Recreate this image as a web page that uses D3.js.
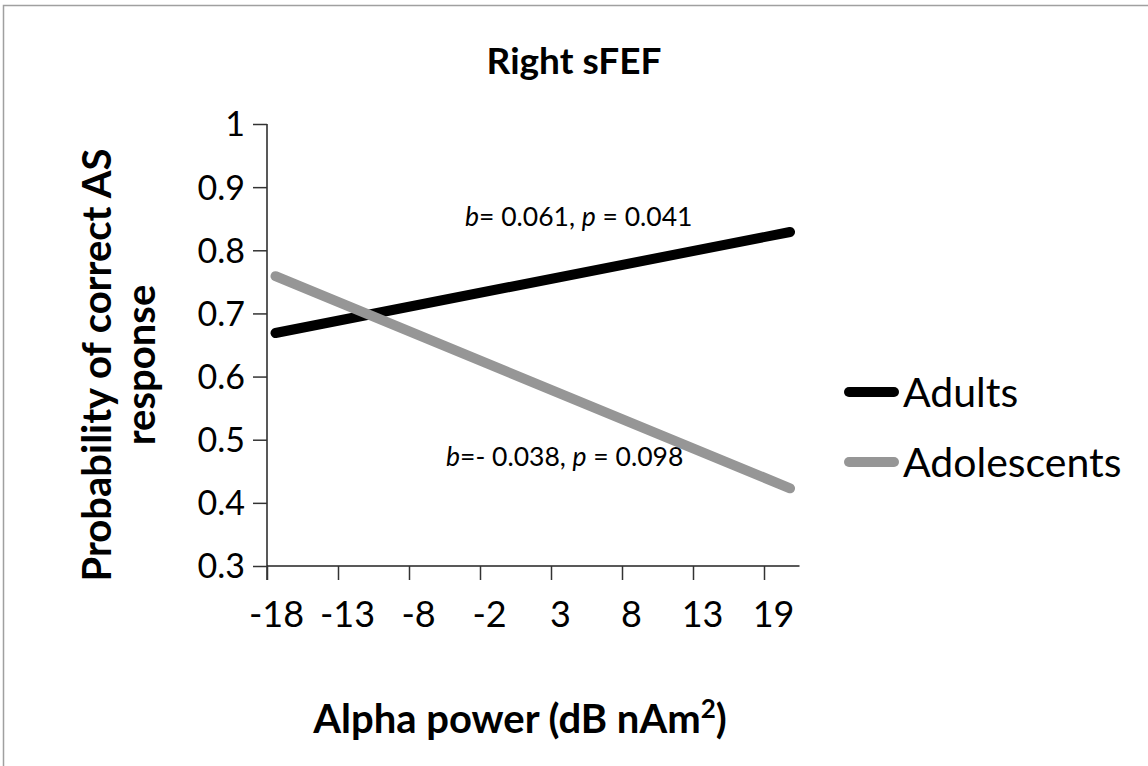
<!DOCTYPE html>
<html>
<head>
<meta charset="utf-8">
<script src="https://cdn.jsdelivr.net/npm/d3@7"></script>
<style>
  body { margin: 0; background: #fff; }
  text { font-family: Lato, "Open Sans", sans-serif; }
</style>
</head>
<body>
<div id="chart"></div>
<script>
// alpha power tick values (evenly spaced categories on the axis)
var alphaTicks = [-18, -13, -8, -2, 3, 8, 13, 19];
var yTicks = [0.3, 0.4, 0.5, 0.6, 0.7, 0.8, 0.9, 1];

// fitted lines, alpha power -> probability
var adultsAlpha = [-17.4, 21.2];
var adultsProb = [0.669, 0.829];
var adolAlpha = [-17.4, 21.2];
var adolProb = [0.759, 0.423];

var seriesNames = ["Adults", "Adolescents"];
var seriesColors = ["#000000", "#969696"];
var annotations = ["b= 0.061, p = 0.041", "b=- 0.038, p = 0.098"];

var W = 1148, H = 766;
var margin = { top: 124, left: 267 };
var step = 71;
var height = 442;

var svg = d3.select("#chart").append("svg")
    .attr("width", W)
    .attr("height", H);

// outer frame
svg.append("rect")
    .attr("x", 3.5).attr("y", 5.5)
    .attr("width", W + 10).attr("height", H + 10)
    .attr("fill", "none")
    .attr("stroke", "#a0a0a0")
    .attr("stroke-width", 1.5);

var g = svg.append("g")
    .attr("transform", "translate(" + margin.left + "," + margin.top + ")");

var x = d3.scaleLinear()
    .domain(alphaTicks)
    .range(alphaTicks.map(function (d, i) { return i * step; }));
var y = d3.scaleLinear().domain([0.3, 1]).range([height, 0]);

// y axis
var yAxis = d3.axisLeft(y).tickValues(yTicks).tickSize(14).tickPadding(8)
    .tickFormat(function (d) { return d === 1 ? "1" : d3.format(".1f")(d); });
var yG = g.append("g").call(yAxis);
yG.select(".domain").attr("stroke", "#222").attr("stroke-width", 1.5).attr("d", "M0," + (height + 14) + "V0");
yG.selectAll(".tick line").attr("stroke", "#333").attr("stroke-width", 1.5);
yG.selectAll(".tick text").attr("font-size", 34).attr("fill", "#000").attr("dy", "0.35em");

// x axis
var xAxis = d3.axisBottom(x).tickValues(alphaTicks).tickSize(14).tickPadding(21)
    .tickFormat(function (d) { return d; });
var xG = g.append("g").attr("transform", "translate(0," + height + ")").call(xAxis);
xG.select(".domain").attr("stroke", "#222").attr("stroke-width", 1.5)
    .attr("d", "M0,0H" + (7.5 * step));
xG.selectAll(".tick line").attr("stroke", "#333").attr("stroke-width", 1.5);
xG.selectAll(".tick text").attr("font-size", 36).attr("fill", "#000").attr("x", 9)
    .text(function (d) { return d < 0 ? "-" + Math.abs(d) : d; });

// lines
var line = d3.line()
    .x(function (d) { return x(d[0]); })
    .y(function (d) { return y(d[1]); });

var series = [
    d3.zip(adultsAlpha, adultsProb),
    d3.zip(adolAlpha, adolProb)
];

g.selectAll(".series")
    .data(series)
    .enter().append("path")
    .attr("class", "series")
    .attr("d", line)
    .attr("fill", "none")
    .attr("stroke", function (d, i) { return seriesColors[i]; })
    .attr("stroke-width", 10)
    .attr("stroke-linecap", "round");

// annotations
function annot(txt, ax, ay) {
    var t = svg.append("text")
        .attr("x", ax).attr("y", ay)
        .attr("font-size", 26.5);
    var parts = txt.split(/(b|p)/);
    parts.forEach(function (p) {
        if (!p) return;
        var s = t.append("tspan").text(p);
        if (p === "b" || p === "p") s.attr("font-style", "italic");
    });
}
annot(annotations[0], 465, 226);
annot(annotations[1], 446, 466);

// title
svg.append("text")
    .attr("x", 574).attr("y", 74)
    .attr("text-anchor", "middle")
    .attr("font-size", 37)
    .attr("font-weight", "bold")
    .text("Right sFEF");

// y axis title
var yt = svg.append("text")
    .attr("transform", "translate(97,365) rotate(-90)")
    .attr("text-anchor", "middle")
    .attr("font-size", 40)
    .attr("font-weight", "bold");
yt.append("tspan").attr("x", 0).attr("dy", "0.35em").text("Probability of correct AS");
yt.append("tspan").attr("x", 0).attr("dy", 44).text("response");

// x axis title
var xt = svg.append("text")
    .attr("x", 520).attr("y", 733)
    .attr("text-anchor", "middle")
    .attr("font-size", 40)
    .attr("font-weight", "bold");
xt.append("tspan").text("Alpha power (dB nAm");
xt.append("tspan").attr("font-size", 26).attr("dy", -15).text("2");
xt.append("tspan").attr("dy", 15).text(")");

// legend
var legend = svg.append("g").attr("transform", "translate(845,392)");
seriesNames.forEach(function (name, i) {
    var row = legend.append("g").attr("transform", "translate(0," + (i * 70) + ")");
    row.append("line")
        .attr("x1", 4).attr("x2", 49)
        .attr("stroke", seriesColors[i])
        .attr("stroke-width", 10)
        .attr("stroke-linecap", "round");
    row.append("text")
        .attr("x", 58).attr("dy", "0.36em")
        .attr("font-size", 41)
        .text(name);
});
</script>
</body>
</html>
